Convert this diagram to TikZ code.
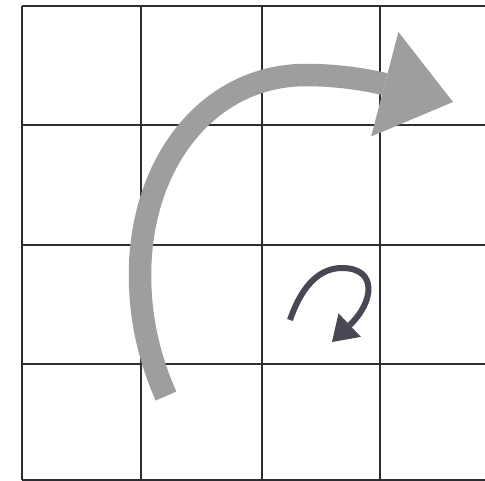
\documentclass[tikz,border=0pt]{standalone}
\usetikzlibrary{arrows.meta}
\definecolor{gridink}{RGB}{45,45,52}
\definecolor{turngray}{RGB}{158,158,160}
\definecolor{spinink}{RGB}{72,72,84}

\begin{document}
\begin{tikzpicture}[x=0.02cm,y=-0.02cm]
\useasboundingbox[fill=white] (0,0) rectangle (485,481);
% grid
\draw[gridink,line width=0.9pt] (22,6) -- (485,6);
\draw[gridink,line width=0.9pt] (22,125) -- (485,125);
\draw[gridink,line width=0.9pt] (22,245) -- (485,245);
\draw[gridink,line width=0.9pt] (22,364) -- (485,364);
\draw[gridink,line width=0.9pt] (22,480) -- (485,480);
\draw[gridink,line width=0.9pt] (22,6) -- (22,480);
\draw[gridink,line width=0.9pt] (141,6) -- (141,480);
\draw[gridink,line width=0.9pt] (262,6) -- (262,480);
\draw[gridink,line width=0.9pt] (380,6) -- (380,480);
% big turn
\draw[turngray,line width=0.45cm,-{Triangle[length=1.41cm,width=2.16cm,line width=0pt]}] (166,396) .. controls (150,360) and (140,320) .. (140,275) .. controls (140,163) and (208,75) .. (306,75) .. controls (350,75) and (384,84) .. (453,102);
% small turn
\draw[spinink,line width=0.12cm,-{Triangle[length=0.49cm,width=0.65cm,line width=0pt]}] (290,320) .. controls (303,282) and (322,268) .. (342,268) .. controls (378,268) and (374,302) .. (332,342);
\end{tikzpicture}
\end{document}
